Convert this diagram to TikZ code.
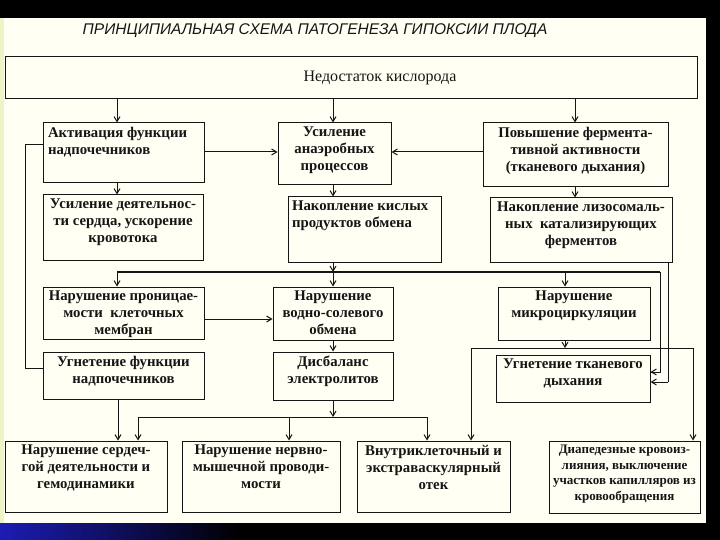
\documentclass[tikz,border=0pt]{standalone}
\usepackage{fontspec}
\setmainfont{Liberation Serif}
\newfontfamily\titlefont{Liberation Sans}
\usetikzlibrary{arrows.meta}
\definecolor{paper}{HTML}{FFFFF3}
\definecolor{leftstrip}{HTML}{EDF5C6}
\definecolor{slideblue}{HTML}{1C1CB4}
\definecolor{ink}{HTML}{151515}
\newcommand\bxfont{\bfseries\fontsize{14.8}{17}\selectfont}
\newcommand\bx[7]{%
  \node[box, minimum width=#4pt-#2pt, minimum height=#5pt-#3pt] (#1) at ({(#2+#4)/2},{(#3+#5)/2})
  {\parbox[c][\dimexpr#5pt-#3pt-4pt\relax][t]{\dimexpr#4pt-#2pt-6pt\relax}{\vspace*{2pt}#6 #7}};}
\begin{document}
\begin{tikzpicture}[x=1pt,y=-1pt,
  box/.style={draw=ink, line width=1pt, inner sep=0pt, font=\bxfont, text=ink},
  line/.style={draw=ink, line width=1pt},
  busline/.style={draw=ink, line width=1.7pt},
  arr/.style={line, -{Straight Barb[length=5pt,width=6pt]}}]
\fill[black] (0,0) rectangle (720,540);
\fill[paper] (0,18) rectangle (706,523);
\fill[leftstrip] (0,18) rectangle (4,523);
\shade[left color=slideblue, right color=black] (0,523) rectangle (240,540);
\useasboundingbox (0,0) rectangle (720,540);

\node[font=\titlefont\itshape\fontsize{15.5}{16}\selectfont, text=ink] (title) at (315,31)
  {ПРИНЦИПИАЛЬНАЯ СХЕМА ПАТОГЕНЕЗА ГИПОКСИИ ПЛОДА};

\node[box, font=\fontsize{16}{18}\selectfont, minimum width=692pt, minimum height=42pt] (top) at (351,78)
  {\hspace*{58pt}Недостаток кислорода};

\bx{a1}{43}{123}{204}{183}{\raggedright\leftskip=2pt}{Активация функции\\ надпочечников}
\bx{b1}{278}{123}{391}{185}{\centering}{Усиление\\ анаэробных\\ процессов}
\bx{c1}{483}{123}{668}{187}{\centering}{Повышение фермента-\\ тивной активности\\ (тканевого дыхания)}
\bx{a2}{43}{195}{203}{260}{\centering}{Усиление деятельнос-\\ ти сердца, ускорение\\ кровотока}
\bx{b2}{288}{197}{441}{262}{\raggedright\leftskip=1pt}{Накопление кислых\\ продуктов обмена}
\bx{c2}{490}{198}{672}{262}{\centering}{Накопление лизосомаль-\\ ных~~катализирующих\\ ферментов}
\bx{a3}{43}{287}{204}{339}{\centering}{Нарушение проницае-\\ мости~~клеточных\\ мембран}
\bx{b3}{273}{287}{393}{340}{\centering}{Нарушение\\ водно-солевого\\ обмена}
\bx{c3}{498}{287}{650}{340}{\centering}{Нарушение\\ микроциркуляции}
\bx{a4}{43}{352}{204}{399}{\centering}{Угнетение функции\\ надпочечников}
\bx{b4}{273}{352}{393}{400}{\centering}{Дисбаланс\\ электролитов}
\bx{c4}{496}{355}{650}{402}{\centering}{Угнетение тканевого\\ дыхания}
\bx{d1}{5}{441}{167}{512}{\centering}{Нарушение сердеч-\\ гой деятельности и\\ гемодинамики}
\bx{d2}{182}{441}{340}{512}{\centering}{Нарушение нервно-\\ мышечной проводи-\\ мости}
\bx{d3}{357}{441}{510}{512}{\centering}{Внутриклеточный и\\ экстраваскулярный\\ отек}
\bx{d4}{549}{441}{700}{513}{\centering\fontsize{13}{15.6}\selectfont}{Диапедезные кровоиз-\\ лияния, выключение\\ \mbox{участков капилляров из}\\ кровообращения}

% column / row helper coordinates
\coordinate (cA) at (117,0);
\coordinate (cB) at (333,0);
\coordinate (cC) at (575,0);
\coordinate (cM) at (565,0);
\coordinate (r1) at (0,152);
\coordinate (bus) at (0,272);
\coordinate (busR) at (660,272);
\coordinate (c2x) at (668,0);
\coordinate (loopx) at (25,0);
\coordinate (bus2) at (0,348);
\coordinate (bus2L) at (471,348);
\coordinate (bus2R) at (693,348);
\coordinate (bus3) at (0,417);
\coordinate (bus3L) at (138,417);
\coordinate (bus3R) at (427,417);
\coordinate (d2x) at (289,0);
\coordinate (d1x) at (118,0);

% top level
\draw[arr] (top.south -| cA) -- (a1.north -| cA);
\draw[arr] (top.south -| cB) -- (b1.north -| cB);
\draw[arr] (top.south -| cC) -- (c1.north -| cC);
\draw[arr] (a1.east |- r1) -- (b1.west |- r1);
\draw[arr] (c1.west |- r1) -- (b1.east |- r1);
\draw[arr] (a1.south -| cA) -- (a2.north -| cA);
\draw[arr] (b1.south -| cB) -- (b2.north -| cB);
\draw[arr] (c1.south -| cC) -- (c2.north -| cC);

% left loop
\draw[line] ([yshift=8pt]a1.west) -| (loopx |- 0,368) -- (a4.west |- 0,368);

% distribution bus
\draw[busline] (bus -| cA) -- (busR);
\draw[line] (busR) |- (c4.east |- 0,372);
\draw[arr] (busR |- 0,372) -- (c4.east |- 0,372);
\draw[arr] (b2.south -| cB) -- (bus -| cB);
\draw[arr] (bus -| cB) -- (b3.north -| cB);
\draw[arr] (bus -| cA) -- (a3.north -| cA);
\draw[arr] (bus -| cM) -- (c3.north -| cM);
\draw[line] (c2.south -| c2x) -- (c2x |- 0,382);
\draw[arr] (c2x |- 0,382) -- (c4.east |- 0,382);

% third row
\draw[arr] (a3.east |- 0,319) -- (b3.west |- 0,319);
\draw[arr] (b3.south -| cB) -- (b4.north -| cB);
\draw[arr] (c3.south -| cM) -- (bus2 -| cM);
\draw[line] (bus2L) -- (bus2R);
\draw[arr] (bus2L) -- (d3.north -| bus2L);
\draw[arr] (bus2R) -- (d4.north -| bus2R);

% lower buses
\draw[arr] (a4.south -| d1x) -- (d1.north -| d1x);
\draw[arr] (b4.south -| cB) -- (bus3 -| cB);
\draw[line] (bus3L) -- (bus3R);
\draw[arr] (bus3L) -- (d1.north -| bus3L);
\draw[arr] (bus3 -| d2x) -- (d2.north -| d2x);
\draw[arr] (bus3R) -- (d3.north -| bus3R);
\end{tikzpicture}
\end{document}
